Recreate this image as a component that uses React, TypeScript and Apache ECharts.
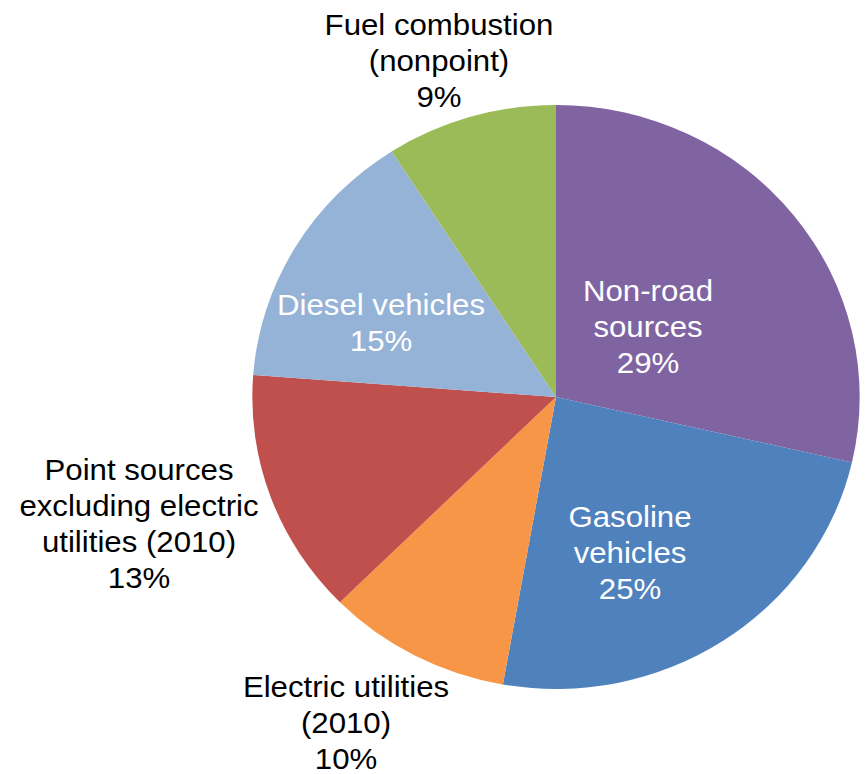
import React, { useEffect, useRef } from "react";
import * as echarts from "echarts";

const categories = [
  "Non-road\nsources",
  "Gasoline\nvehicles",
  "Electric utilities\n(2010)",
  "Point sources\nexcluding electric\nutilities (2010)",
  "Diesel vehicles",
  "Fuel combustion\n(nonpoint)",
];
const shares = [28.6, 24.2, 9.8, 13.6, 14.7, 9.1];
// percentages as printed on the chart
const printedPercents = ["29%", "25%", "10%", "13%", "15%", "9%"];
const sliceColors = ["#8064A2", "#4F81BD", "#F79646", "#C0504D", "#95B3D7", "#9BBB59"];
const labelColors = ["#ffffff", "#ffffff", "#000000", "#000000", "#ffffff", "#000000"];

// The reference image is stretched slightly wider than tall.
const STRETCH_X = 1.04;
const PAGE_W = 865;
const PAGE_H = 774;
const CHART_W = PAGE_W / STRETCH_X;

// label block centres, in page pixels
const labelPositions: [number, number][] = [
  [648, 326],
  [630, 552],
  [346, 722],
  [139, 523],
  [381, 322],
  [439, 60],
];

export default function App() {
  const ref = useRef<HTMLDivElement>(null);
  useEffect(() => {
    if (!ref.current) return;
    const chart = echarts.init(ref.current, undefined, { renderer: "svg" });
    chart.setOption({
      animation: false,
      backgroundColor: "#ffffff",
      series: [
        {
          type: "pie",
          center: [556 / STRETCH_X, 397],
          radius: 292,
          startAngle: 90,
          clockwise: true,
          avoidLabelOverlap: false,
          emphasis: { disabled: true },
          itemStyle: { borderWidth: 0 },
          labelLine: { show: false },
          label: {
            show: true,
            position: "inside",
            formatter: (p: any) => `${p.name}\n${printedPercents[p.dataIndex]}`,
            fontFamily: "'Liberation Sans', Arial, sans-serif",
            fontSize: 30,
            lineHeight: 36,
            align: "center",
          },
          labelLayout: (params: any) => {
            const p = labelPositions[params.dataIndex];
            return { x: p[0] / STRETCH_X, y: p[1], align: "center", verticalAlign: "middle" };
          },
          data: categories.map((name, i) => ({
            name,
            value: shares[i],
            itemStyle: { color: sliceColors[i] },
            label: { color: labelColors[i] },
          })),
        },
      ],
    });
    return () => chart.dispose();
  }, []);
  return (
    <div
      style={{
        position: "fixed",
        left: 0,
        top: 0,
        width: PAGE_W,
        height: PAGE_H,
        overflow: "hidden",
        background: "#ffffff",
      }}
    >
      <div
        ref={ref}
        style={{
          width: CHART_W,
          height: PAGE_H,
          transform: `scaleX(${STRETCH_X})`,
          transformOrigin: "0 0",
        }}
      />
    </div>
  );
}
